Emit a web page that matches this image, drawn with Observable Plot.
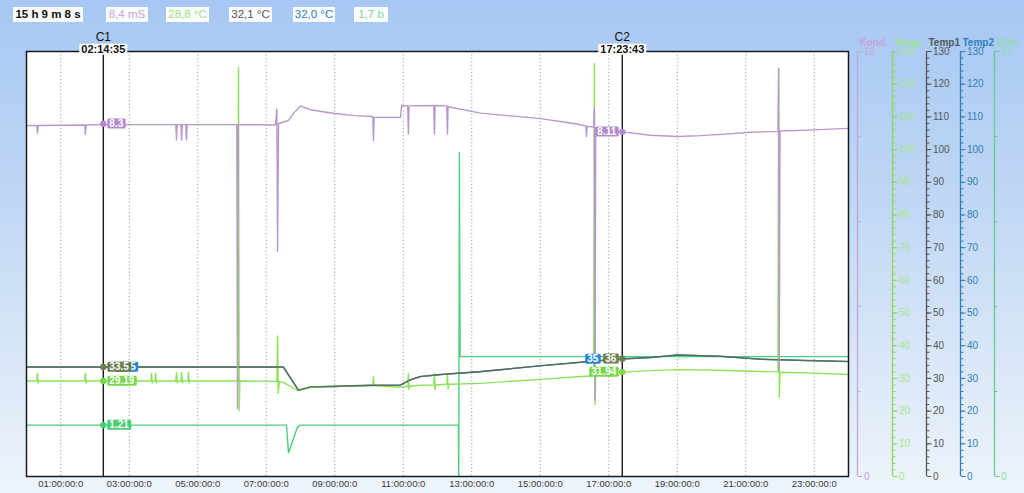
<!DOCTYPE html>
<html><head><meta charset="utf-8">
<script src="https://cdn.jsdelivr.net/npm/d3@7"></script>
<script src="https://cdn.jsdelivr.net/npm/@observablehq/plot@0.6"></script>
<style>
html,body{margin:0;padding:0;}
body{width:1024px;height:493px;overflow:hidden;background:linear-gradient(to bottom,#a6c7f3 0%,#c3d9f5 45%,#eef4fb 100%);font-family:"Liberation Sans",Arial,sans-serif;}
#wrap{position:relative;width:1024px;height:493px;}
.hdr{position:absolute;top:7px;height:15px;line-height:15px;font-size:11.5px;background:#fbfcfe;text-align:center;white-space:nowrap;}
</style></head><body><div id="wrap"></div>
<script>
// ---------- data (time in hours, values in series units) ----------
const headerLabels = ["15 h 9 m 8 s", "8,4 mS", "28,8 °C", "32,1 °C", "32,0 °C", "1,7 b"];
const axisNames = ["Kond.", "Temp.", "Temp1", "Temp2", "Ciśn."];
const hourTicks = [1,3,5,7,9,11,13,15,17,19,21,23];
const cursorNames = ["C1", "C2"];
const cursorTimes = [2.2431, 17.3953];
const cursorClock = ["02:14:35", "17:23:43"];

const kond = [[0,8.26],[0.30,8.26],[0.32,8.07],[0.34,8.26],[1.70,8.27],[1.72,8.05],[1.74,8.27],[2.24,8.28],
 [4.36,8.28],[4.38,7.92],[4.40,8.28],[4.51,8.28],[4.53,7.92],[4.55,8.28],[4.65,8.28],[4.67,7.92],[4.69,8.28],
 [6.14,8.28],[6.16,1.6],[6.18,8.28],[7.27,8.27],[7.31,8.65],[7.33,5.3],[7.36,8.3],[7.45,8.33],[7.65,8.38],
 [7.80,8.55],[8.00,8.72],[8.29,8.63],[8.99,8.54],[9.60,8.49],[10.04,8.47],[10.11,8.47],[10.13,7.9],[10.15,8.45],
 [10.92,8.45],[10.95,8.73],[11.13,8.72],[11.15,8.06],[11.17,8.72],[11.89,8.73],[11.91,8.06],[11.93,8.73],
 [12.27,8.72],[12.29,8.06],[12.31,8.7],[13.26,8.55],[15.01,8.42],[16.03,8.3],[16.33,8.25],[16.35,8.0],[16.37,8.24],
 [16.56,8.22],[16.58,8.68],[16.60,1.8],[16.62,8.2],[17.40,8.11],[18.22,8.03],[19.01,8.0],[19.68,8.02],[20.26,8.05],
 [21.14,8.1],[21.94,8.12],[21.96,9.6],[21.98,2.5],[22.0,8.13],[22.80,8.15],[24.0,8.19]];

const temp = [[0,29.2],[0.30,29.2],[0.32,31.6],[0.34,28.6],[0.36,29.2],[1.70,29.2],[1.72,31.6],[1.74,28.6],[1.76,29.2],
 [3.63,29.2],[3.65,31.6],[3.67,28.6],[3.69,29.2],[3.75,29.2],[3.77,31.6],[3.79,28.6],[3.81,29.2],
 [4.36,29.2],[4.38,31.8],[4.40,28.6],[4.42,29.2],[4.51,29.2],[4.53,31.8],[4.55,28.6],[4.57,29.2],
 [4.71,29.2],[4.73,31.8],[4.75,28.6],[4.77,29.2],[6.17,29.2],[6.19,125.1],[6.21,20.2],[6.23,29.2],
 [7.31,29.1],[7.33,43],[7.35,25.4],[7.38,29.0],[7.50,28.8],[7.91,26.3],[8.29,27.3],[8.99,27.5],
 [10.04,27.8],[10.11,27.8],[10.13,30.6],[10.15,27.8],[10.92,27.3],[11.13,27.6],[11.15,31.5],[11.17,26.6],[11.19,27.6],
 [11.50,27.9],[11.89,28.0],[11.91,31.5],[11.93,26.6],[11.95,28.0],[12.23,28.2],[12.27,28.2],[12.29,31.2],[12.31,26.8],[12.33,28.2],
 [13.26,28.5],[15.01,29.7],[16.18,30.6],[16.56,30.8],[16.58,126.3],[16.60,22.0],[16.62,31.0],[17.40,31.94],
 [18.22,32.4],[19.01,32.7],[20.26,32.5],[21.43,32.1],[21.94,32.0],[21.96,124.8],[21.98,24.2],[22.0,31.9],
 [22.80,31.7],[24.0,31.2]];

const temp1 = [[0,33.5],[7.5,33.5],[7.94,26.4],[8.29,27.4],[8.99,27.6],[10.04,27.9],[10.92,28.0],[11.21,29.6],
 [11.5,30.6],[12.09,31.2],[13.26,32.1],[15.01,33.9],[16.76,35.5],[17.4,36.0],[18.22,36.4],[19.01,37.2],
 [20.26,36.8],[21.43,35.9],[22.8,35.5],[24,35.2]];

const temp2 = [[0,33.45],[7.5,33.45],[7.94,26.35],[8.29,27.35],[8.99,27.55],[10.04,27.85],[10.92,27.95],[11.21,29.55],
 [11.5,30.55],[12.09,31.15],[13.26,32.05],[15.01,33.85],[16.76,35.45],[17.4,35.95],[18.22,36.35],[19.01,37.15],
 [20.26,36.75],[21.43,35.85],[22.8,35.45],[24,35.15]];

const cisn = [[0,1.21],[7.59,1.21],[7.65,0.56],[7.91,1.16],[8.0,1.21],[12.61,1.21],[12.62,0.0],[12.64,7.62],
 [12.66,2.82],[24.0,2.82]];

const c1Series = ["temp2","temp1","temp","cisn","kond"];
const c1Text   = ["33.5","33.5","29.19","1.21","8.3"];
const c2Series = ["temp2","temp1","temp","kond"];
const c2Text   = ["35","36","31.94","8.11"];

// ---------- styling ----------
const K = 13; // 0..10 series drawn on the shared 0..130 scale
const scaleOf = {kond:K, temp:1, temp1:1, temp2:1, cisn:K};
const lineColor = {cisn:"#4ccf7d", temp2:"#2e80c4", temp:"#8be25c", temp1:"#5a6e55", kond:"#b898cb"};
const labelColor = {kond:"#b48ace", temp:"#78d84a", temp1:"#6b7e4e", temp2:"#2a86d0", cisn:"#46cc74"};
const seriesData = {cisn, temp2, temp, temp1, kond};
const drawOrder = ["cisn","temp2","temp","temp1","kond"];

const axesCfg = [
  {off:9,   line:"#c3a6d6", text:"#c8a4da", k:K, major:[0,10], minor:[2,4,6,8]},
  {off:44,  line:"#8ed65e", text:"#a6e68c", k:1, major:d3.range(0,131,10), minor:d3.range(0,131,2)},
  {off:78,  line:"#555555", text:"#555555", k:1, major:d3.range(0,131,10), minor:d3.range(0,131,2)},
  {off:112, line:"#2f7fb6", text:"#2f7fb6", k:1, major:d3.range(0,131,10), minor:d3.range(0,131,2)},
  {off:146, line:"#62cc8e", text:"#8edcad", k:K, major:[0,10], minor:[2,4,6,8]}
];
const axisHeadColor = ["#c9a3d9","#a3e58a","#4f5a55","#2d7fb8","#8cdcaa"];

const marks = [];
marks.push(Plot.frame({fill:"white", stroke:null}));
marks.push(Plot.gridX(hourTicks, {stroke:"#9a9a9a", strokeOpacity:1, strokeDasharray:"1.2,2.3"}));
marks.push(Plot.axisX(hourTicks, {tickSize:0, tickPadding:4, fontSize:9.5, fill:"#3a3a3a",
  tickFormat: h => String(h).padStart(2,"0") + ":00:00:0", label:null}));

for (const key of drawOrder) {
  const k = scaleOf[key];
  marks.push(Plot.line(seriesData[key], {x: d => d[0], y: d => d[1]*k, stroke: lineColor[key], strokeWidth:1.4}));
}

// cursors
const cursors = cursorTimes.map((t,i) => ({t, name: cursorNames[i], clock: cursorClock[i]}));
marks.push(Plot.ruleX(cursors, {x:"t", y1:0, y2:130, stroke:"#1a1a1a", strokeWidth:1.4}));
marks.push(Plot.frame({stroke:"#1a1a1a", strokeWidth:1.5}));
marks.push(Plot.text(cursors, {x:"t", text:"name", frameAnchor:"top", dy:-19, fontSize:12, fill:"#111"}));
marks.push(Plot.text(cursors, {x:"t", text:"clock", frameAnchor:"top", dy:-6, fontSize:11, fontWeight:"bold", fill:"#111", className:"bg-white"}));

// cursor value labels
function cursorLabels(t, seriesList, texts, side) {
  seriesList.forEach((key, i) => {
    const v = parseFloat(texts[i]);
    const k = scaleOf[key];
    let dx = side > 0 ? 6 : -6, dy = 0;
    if (key === "temp2") { dx = side > 0 ? 13 : -24; dy = side > 0 ? 0 : -3; }
    if (key !== "temp2") marks.push(Plot.dot([v], {x: () => t, y: d => d*k, r:3.2, fill: labelColor[key]}));
    marks.push(Plot.text([texts[i]], {x: () => t, y: () => v*k, text: d => d, dx, dy,
      textAnchor: side > 0 ? "start" : "end", fill:"white", fontWeight:"bold", fontSize:10,
      className: "bg-" + key}));
  });
}
cursorLabels(cursorTimes[0], c1Series, c1Text, 1);
cursorLabels(cursorTimes[1], c2Series, c2Text, -1);

// right-hand axes
axesCfg.forEach((a, i) => {
  marks.push(Plot.ruleX([24], {y1:0, y2:130, dx:a.off, stroke:a.line, strokeWidth:1.3}));
  marks.push(Plot.axisY(a.minor.map(v => v*a.k), {anchor:"right", dx:a.off, tickSize:2.5, stroke:a.line, fill:"none", label:null}));
  marks.push(Plot.axisY(a.major.map(v => v*a.k), {anchor:"right", dx:a.off, tickSize:4.5, tickPadding:2, stroke:a.line,
    fill:a.text, fontSize:10, tickFormat: d => String(Math.round(d / a.k)), label:null}));
  marks.push(Plot.text([axisNames[i]], {frameAnchor:"top-right", text: d => d, dx:a.off + 2, dy:-13,
    textAnchor:"start", fontWeight:"bold", fontSize:10, fill: axisHeadColor[i]}));
});

const chart = Plot.plot({
  width:1024, height:493,
  marginLeft:26, marginRight:176, marginTop:51, marginBottom:17,
  x:{domain:[0,24]}, y:{domain:[0,130]},
  style:{background:"transparent", fontFamily:"'Liberation Sans', Arial, sans-serif", overflow:"visible"},
  marks
});
const wrap = document.getElementById("wrap");
wrap.appendChild(chart);

// label backgrounds
const bg = Object.assign({"bg-white":"#ffffff"}, Object.fromEntries(Object.entries(labelColor).map(([k,c]) => ["bg-"+k, c])));
for (const [cls, col] of Object.entries(bg)) {
  chart.querySelectorAll("g." + cls + " text").forEach(t => {
    const b = t.getBBox();
    const r = document.createElementNS("http://www.w3.org/2000/svg", "rect");
    r.setAttribute("x", b.x - 2); r.setAttribute("y", b.y + 0.5);
    r.setAttribute("width", b.width + 4); r.setAttribute("height", b.height - 1);
    r.setAttribute("rx", 1.5); r.setAttribute("fill", col);
    if (t.getAttribute("transform")) r.setAttribute("transform", t.getAttribute("transform"));
    t.parentNode.insertBefore(r, t);
  });
}

// header readouts
const hdrStyle = [
  {left:13, width:70, color:"#111", weight:"bold"},
  {left:106, width:42, color:"#c8a6d8"},
  {left:166, width:43, color:"#9ee07c"},
  {left:229, width:43, color:"#555"},
  {left:293, width:42, color:"#2f80bd"},
  {left:354, width:34, color:"#7fd88f"}
];
headerLabels.forEach((txt, i) => {
  const d = document.createElement("div");
  d.className = "hdr"; d.textContent = txt;
  const s = hdrStyle[i];
  d.style.left = s.left + "px"; d.style.width = s.width + "px"; d.style.color = s.color;
  if (s.weight) d.style.fontWeight = s.weight;
  wrap.appendChild(d);
});
</script></body></html>
